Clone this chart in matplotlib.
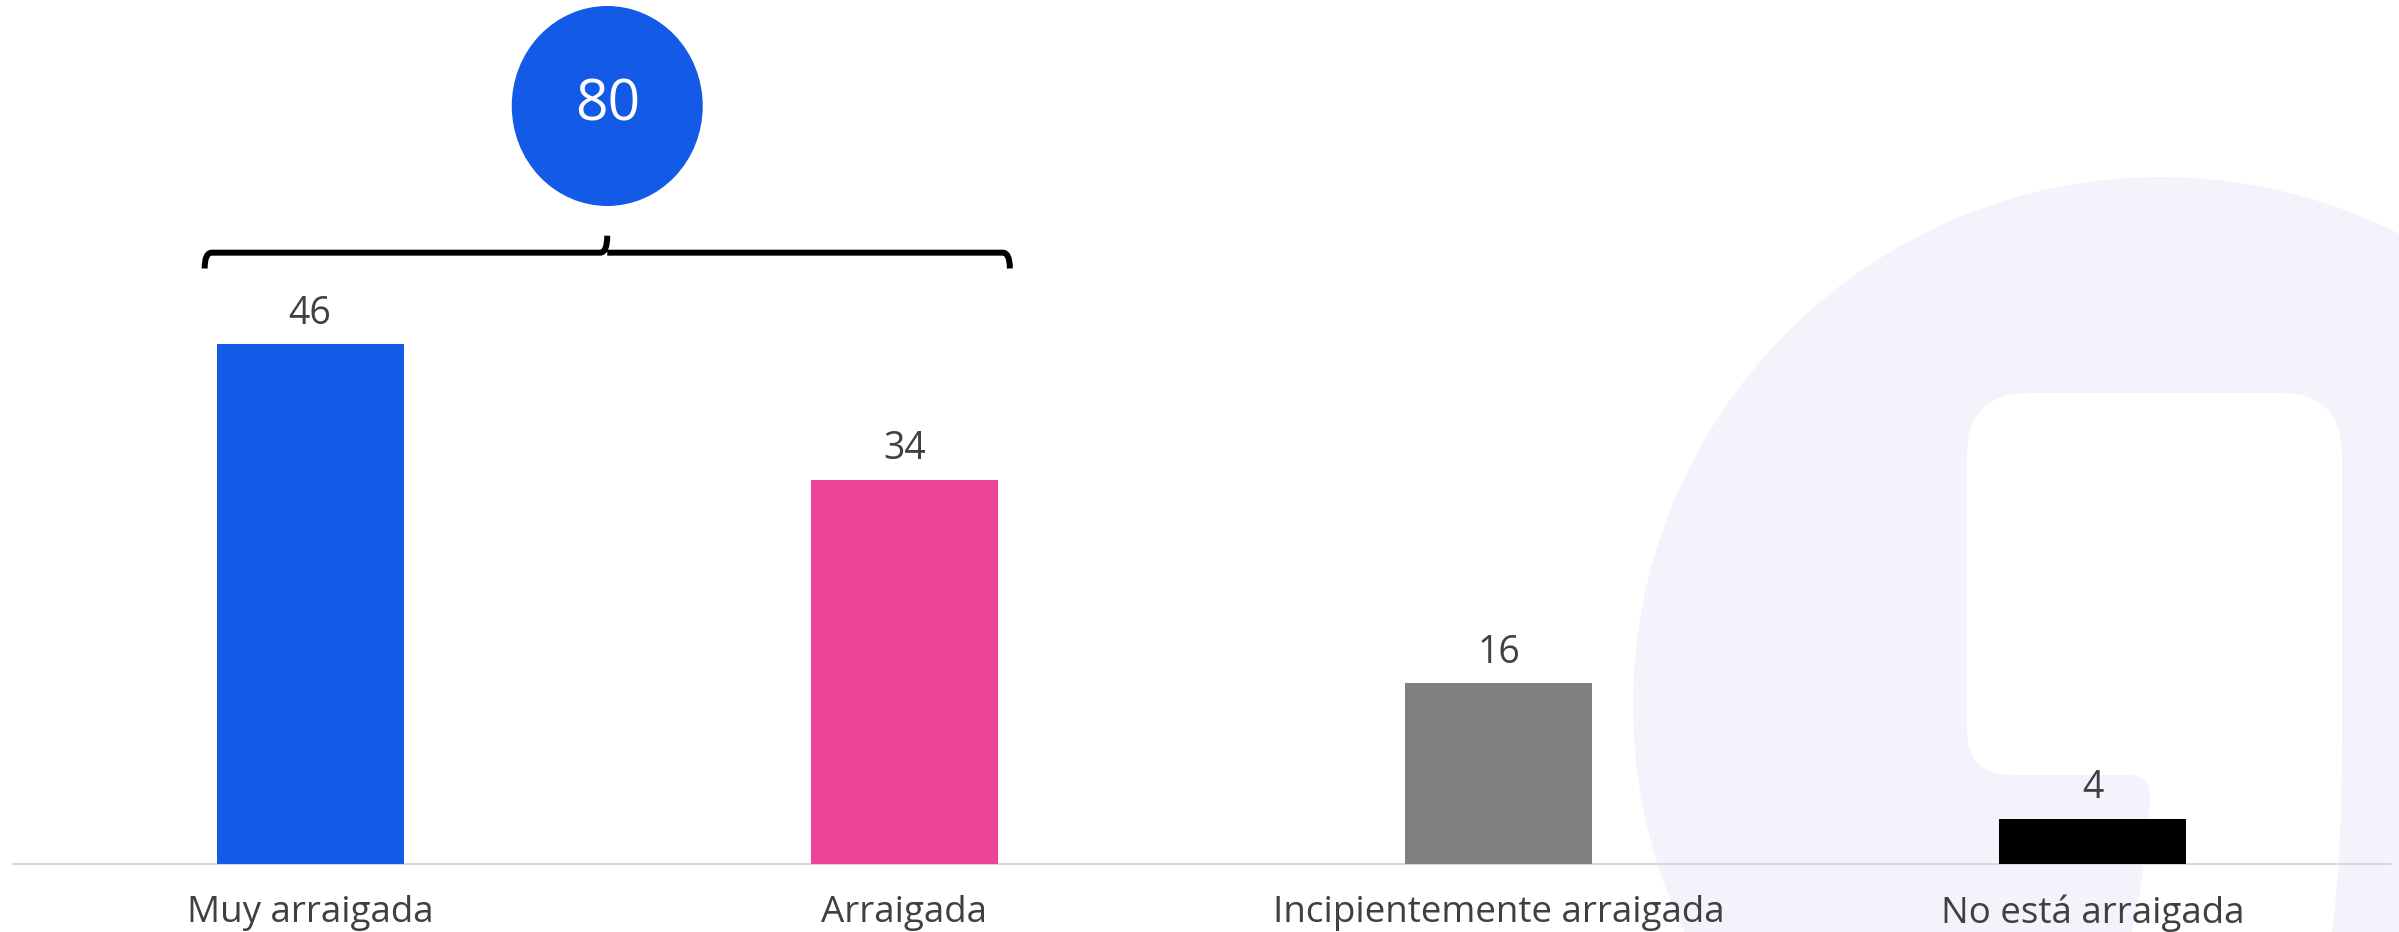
import matplotlib
matplotlib.use("Agg")
import matplotlib.pyplot as plt
from matplotlib.patches import Circle, Ellipse, PathPatch
from matplotlib.path import Path

categories = ["Muy arraigada", "Arraigada", "Incipientemente arraigada", "No está arraigada"]
values = [46, 34, 16, 4]
colors = ["#115BE6", "#EC4597", "#808080", "#000000"]
group_idx = [0, 1]

W, H = 2399, 932
fig = plt.figure(figsize=(W / 100, H / 100), dpi=100)
fig.patch.set_facecolor("white")

# background watermark (figure-pixel coordinates)
bg = fig.add_axes([0, 0, 1, 1])
bg.set_xlim(0, W)
bg.set_ylim(H, 0)
bg.axis("off")
wm = "#F3F4FB"
bg.add_patch(Circle((2161, 705), 528, facecolor=wm, edgecolor="none"))
M, L, C, Z = Path.MOVETO, Path.LINETO, Path.CURVE3, Path.CLOSEPOLY
logo = [
    (M, (1967, 455)),
    (C, (1967, 393)), (C, (2029, 393)),
    (L, (2280, 393)),
    (C, (2342, 393)), (C, (2342, 455)),
    (L, (2342, 740)),
    (C, (2342, 860)), (C, (2332, 932)),
    (L, (2132, 932)),
    (C, (2148, 860)), (C, (2150, 795)),
    (C, (2150, 775)), (C, (2130, 775)),
    (L, (2012, 775)),
    (C, (1967, 775)), (C, (1967, 730)),
    (Z, (1967, 455)),
]
bg.add_patch(PathPatch(Path([v for _, v in logo], [c for c, _ in logo]),
                       facecolor="white", edgecolor="none"))

font = "Open Sans"
txt = "#404040"

ax = fig.add_axes([13 / W, 68 / H, 2377 / W, 864 / H])
ax.patch.set_alpha(0)
x = list(range(len(categories)))
bw = 0.315
ax.bar(x, values, width=bw, color=colors, zorder=3)
ax.set_xlim(-0.5, len(categories) - 0.5)
ax.set_ylim(0, 864 / 11.3)
for s in ["top", "right", "left"]:
    ax.spines[s].set_visible(False)
ax.spines["bottom"].set_color("#D9D9D9")
ax.spines["bottom"].set_linewidth(1.5)
ax.set_yticks([])
ax.set_xticks(x)
ax.set_xticklabels(categories, fontsize=26.5, color=txt, family=font)
ax.tick_params(axis="x", length=0, pad=22)

for xi, v in zip(x, values):
    ax.annotate(str(v), (xi, v), xytext=(0, 22), textcoords="offset points",
                ha="center", va="center", fontsize=27, color=txt, family=font)

# bracket over the grouped bars
x0 = group_idx[0] - bw / 2 - 0.02
x1 = group_idx[-1] + bw / 2 + 0.02
xm = (x0 + x1) / 2
yb = 54.1
dy_end = 1.4
dx_c = 0.012
verts = [(x0, yb - dy_end), (x0, yb), (x0 + dx_c, yb),
         (xm - dx_c, yb), (xm, yb), (xm, yb + 1.5),
         (xm, yb), (xm + dx_c, yb),
         (x1 - dx_c, yb), (x1, yb), (x1, yb - dy_end)]
codes = [Path.MOVETO, Path.CURVE3, Path.CURVE3,
         Path.LINETO, Path.CURVE3, Path.CURVE3,
         Path.MOVETO, Path.LINETO,
         Path.LINETO, Path.CURVE3, Path.CURVE3]
ax.add_patch(PathPatch(Path(verts, codes), facecolor="none", edgecolor="black",
                       linewidth=4.3, capstyle="butt", joinstyle="round", clip_on=False))

# total bubble
total = sum(values[i] for i in group_idx)
cy = (864 - 106) / 11.3
ax.add_patch(Ellipse((xm, cy), 191 / 594.25, 200 / 11.3, facecolor="#135BE6",
                     edgecolor="none", clip_on=False, zorder=4))
ax.text(xm, cy, str(total), ha="center", va="center", fontsize=41, color="white",
        family=font, zorder=5)

fig.savefig("out.png", dpi=100, facecolor="white")
